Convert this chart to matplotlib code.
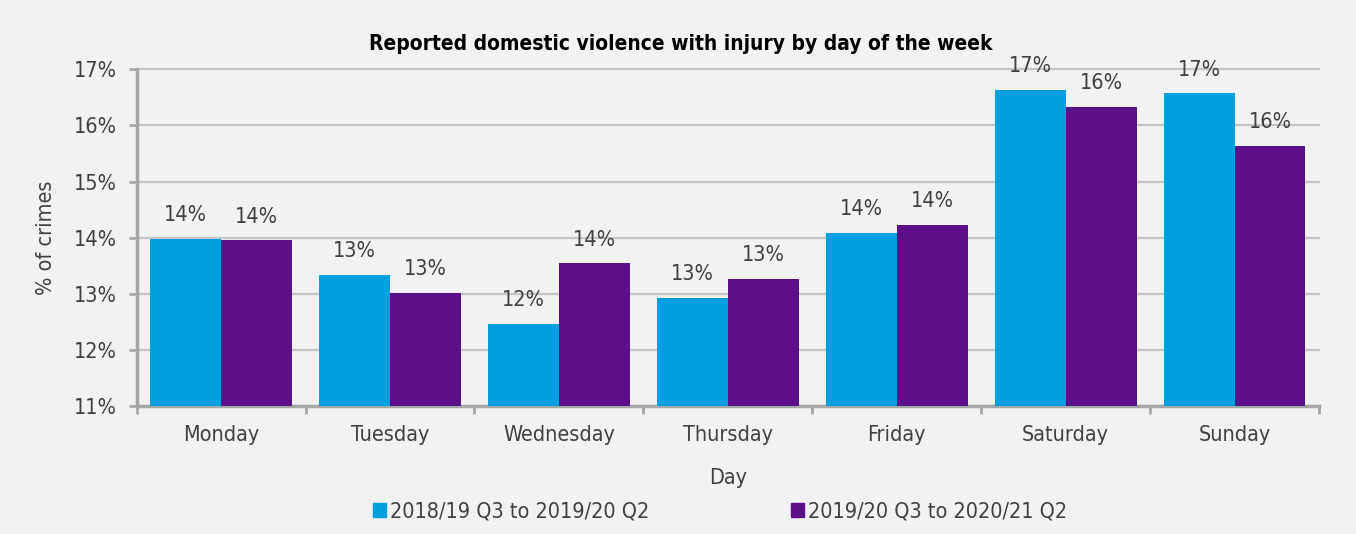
import matplotlib.pyplot as plt
import numpy as np
from matplotlib.patches import Patch
from matplotlib.ticker import FixedLocator

days = ['Monday', 'Tuesday', 'Wednesday', 'Thursday', 'Friday', 'Saturday', 'Sunday']
period_1 = [13.98, 13.33, 12.46, 12.93, 14.08, 16.63, 16.57]
period_2 = [13.95, 13.01, 13.54, 13.27, 14.23, 16.33, 15.64]
series_names = ['2018/19 Q3 to 2019/20 Q2', '2019/20 Q3 to 2020/21 Q2']
yticks = [11, 12, 13, 14, 15, 16, 17]

blue = '#009fe0'
purple = '#5c0f88'
txt = '#404040'
grey = '#c4c4c4'
fs = 15.5

plt.rcParams['font.family'] = ['DejaVu Sans']
plt.rcParams['font.stretch'] = 'condensed'
plt.rcParams['font.size'] = fs

fig = plt.figure(figsize=(13.56, 5.34), dpi=100, facecolor='#f2f2f2')
ax = fig.add_axes([0.1008, 0.2397, 0.8719, 0.6306])
ax.set_facecolor('#f2f2f2')

x = np.arange(len(days))
w = 0.42
b1 = ax.bar(x - w / 2, period_1, w, color=blue, zorder=3)
b2 = ax.bar(x + w / 2, period_2, w, color=purple, zorder=3)

for bars, vals in [(b1, period_1), (b2, period_2)]:
    for r, v in zip(bars, vals):
        ax.annotate('%d%%' % round(v), (r.get_x() + r.get_width() / 2, v),
                    xytext=(0, 10), textcoords='offset points',
                    ha='center', va='bottom', color=txt, fontsize=fs)

ax.set_xlim(-0.5, len(days) - 0.5)
ax.set_ylim(11, 17)
ax.set_yticks(yticks)
ax.set_yticklabels(['%d%%' % t for t in yticks])
ax.yaxis.grid(True, color=grey, linewidth=1.6, zorder=0)
ax.set_axisbelow(True)
for gl in ax.get_ygridlines():
    gl.set_clip_on(False)

ax.set_xticks(x)
ax.set_xticklabels(days)
ax.xaxis.set_minor_locator(FixedLocator(np.arange(-0.5, len(days), 1.0)))
ax.tick_params(axis='x', which='major', length=0, pad=14, colors=txt, labelsize=fs)
ax.tick_params(axis='x', which='minor', length=6, width=2, color='#a6a6a6')
ax.tick_params(axis='y', length=6, width=2, pad=8, color='#a6a6a6', labelcolor=txt, labelsize=fs)

for s in ['top', 'right']:
    ax.spines[s].set_visible(False)
for s in ['left', 'bottom']:
    ax.spines[s].set_color('#a6a6a6')
    ax.spines[s].set_linewidth(2.5)

ax.set_ylabel('% of crimes', color=txt, fontsize=fs, labelpad=13)
ax.set_xlabel('Day', color=txt, fontsize=fs, labelpad=16)
ax.set_title('Reported domestic violence with injury by day of the week',
             fontsize=15, fontweight='bold', color='black', pad=14, x=0.46)

handles = [Patch(color=blue), Patch(color=purple)]
fig.legend(handles, series_names, loc='center', bbox_to_anchor=(0.531, 0.042),
           ncol=2, frameon=False, fontsize=fs, handlelength=0.6, handleheight=0.6,
           handletextpad=0.2, columnspacing=6.6, labelcolor=txt)

fig.savefig('out.png', dpi=100, facecolor=fig.get_facecolor())
